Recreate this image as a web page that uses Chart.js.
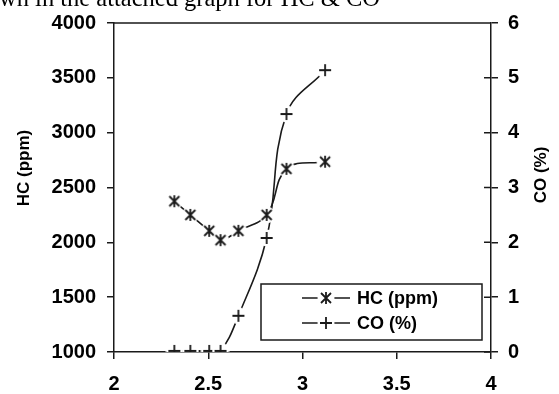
<!DOCTYPE html>
<html>
<head>
<meta charset="utf-8">
<script src="https://cdn.jsdelivr.net/npm/chart.js@4.4.1/dist/chart.umd.min.js"></script>
<style>
  html, body { margin: 0; padding: 0; background: #fff; overflow: hidden; }
  #wrap { position: relative; width: 559px; height: 394px; }
  #cut { position: absolute; left: -1px; top: -14px; font: 24.5px/24px "Liberation Serif", "Times New Roman", serif; color: #000; white-space: nowrap; }
  canvas { position: absolute; left: 0; top: 0; }
</style>
</head>
<body>
<div id="wrap">
  <canvas id="grafica" width="559" height="394"></canvas>
  <div id="cut">wn in the attached graph for HC &amp; CO</div>
</div>
<script>
// values
const hcX = [2.32, 2.405, 2.505, 2.565, 2.66, 2.81, 2.915, 3.12];
const hcValues = [2375, 2250, 2105, 2020, 2105, 2250, 2670, 2735];
const coX = [2.32, 2.405, 2.505, 2.565, 2.66, 2.81, 2.915, 3.12];
const coValues = [0.02, 0.02, 0.02, 0.02, 0.66, 2.08, 4.34, 5.14];

const xTicks = [2, 2.5, 3, 3.5, 4];
const hcTicks = [1000, 1500, 2000, 2500, 3000, 3500, 4000];
const coTicks = [0, 1, 2, 3, 4, 5, 6];

const hcLabel = 'HC (ppm)';
const coLabel = 'CO (%)';

const ink = '#1a1a1a';
const tickFont = { family: 'Liberation Sans, Arial, sans-serif', size: 20, weight: 'bold' };
const plain = v => String(v);

// marker pictures: white disc behind so the line stops short of the mark
function marca(tipo) {
  const c = document.createElement('canvas');
  c.width = 18; c.height = 18;
  const g = c.getContext('2d');
  g.fillStyle = '#fff';
  g.beginPath(); g.arc(9, 9, 8.5, 0, Math.PI * 2); g.fill();
  g.strokeStyle = ink; g.lineWidth = 1.8; g.lineCap = 'butt';
  g.beginPath();
  if (tipo === 'star') {
    g.moveTo(4, 4); g.lineTo(14, 14);
    g.moveTo(14, 4); g.lineTo(4, 14);
    g.moveTo(9, 3); g.lineTo(9, 15);
  } else {
    g.moveTo(3, 9); g.lineTo(15, 9);
    g.moveTo(9, 3); g.lineTo(9, 15);
  }
  g.stroke();
  return c;
}
const starImg = marca('star');
const plusImg = marca('plus');

const graph = document.querySelector('#grafica');

const data = {
  datasets: [{
    label: hcLabel,
    data: hcX.map((x, i) => ({ x: x, y: hcValues[i] })),
    yAxisID: 'yHC',
    borderColor: ink,
    borderWidth: 1.6,
    tension: 0.4,
    pointStyle: starImg,
    pointRadius: 7,
    fill: false
  }, {
    label: coLabel,
    data: coX.map((x, i) => ({ x: x, y: coValues[i] })),
    yAxisID: 'yCO',
    borderColor: ink,
    borderWidth: 1.6,
    tension: 0.4,
    pointStyle: plusImg,
    pointRadius: 7,
    fill: false
  }]
};

// extras: top frame, inner ticks on right axis, axis titles, boxed legend
const extras = {
  id: 'extras',
  afterDraw(chart) {
    const ctx = chart.ctx;
    const a = chart.chartArea;
    const yCO = chart.scales.yCO;
    ctx.save();
    ctx.strokeStyle = ink;
    ctx.lineWidth = 1.5;
    ctx.beginPath();
    ctx.moveTo(a.left, a.top); ctx.lineTo(a.right, a.top);
    coTicks.forEach(v => {
      const py = yCO.getPixelForValue(v);
      ctx.moveTo(a.right - 7, py); ctx.lineTo(a.right, py);
    });
    ctx.stroke();

    ctx.fillStyle = '#000';
    ctx.font = 'bold 17px "Liberation Sans", Arial, sans-serif';
    ctx.textAlign = 'center';
    ctx.textBaseline = 'middle';
    ctx.save(); ctx.translate(24, 168); ctx.rotate(-Math.PI / 2); ctx.fillText(hcLabel, 0, 0); ctx.restore();
    ctx.save(); ctx.translate(541, 175); ctx.rotate(-Math.PI / 2); ctx.fillText(coLabel, 0, 0); ctx.restore();

    // legend box
    const bx = 261, by = 284, bw = 221, bh = 56;
    ctx.fillStyle = '#fff';
    ctx.fillRect(bx, by, bw, bh);
    ctx.lineWidth = 1.5;
    ctx.strokeRect(bx, by, bw, bh);
    const filas = [[hcLabel, starImg, 298], [coLabel, plusImg, 323]];
    ctx.font = 'bold 18px "Liberation Sans", Arial, sans-serif';
    ctx.textAlign = 'left';
    filas.forEach(f => {
      const cy = f[2];
      ctx.beginPath();
      ctx.moveTo(302, cy); ctx.lineTo(318, cy);
      ctx.moveTo(334, cy); ctx.lineTo(350, cy);
      ctx.stroke();
      ctx.drawImage(f[1], 326 - 9, cy - 9);
      ctx.fillStyle = '#000';
      ctx.fillText(f[0], 357, cy + 1);
    });
    ctx.restore();
  }
};

const config = {
  type: 'line',
  data: data,
  options: {
    responsive: false,
    animation: false,
    layout: { padding: { top: 20, left: 0, right: 0, bottom: 0 } },
    plugins: { legend: { display: false }, tooltip: { enabled: false } },
    scales: {
      x: {
        type: 'linear',
        min: 2, max: 4,
        afterFit: s => { s.height = 42; },
        afterBuildTicks: s => { s.ticks = xTicks.map(v => ({ value: v })); },
        grid: { drawOnChartArea: false, tickLength: 7, color: ink, lineWidth: 1.5 },
        border: { color: ink, width: 1.5 },
        ticks: { color: '#000', font: tickFont, padding: 13, maxRotation: 0, callback: plain }
      },
      yHC: {
        type: 'linear',
        position: 'left',
        min: 1000, max: 4000,
        afterFit: s => { s.width = 114; },
        afterBuildTicks: s => { s.ticks = hcTicks.map(v => ({ value: v })); },
        grid: { drawOnChartArea: false, tickLength: 7, color: ink, lineWidth: 1.5 },
        border: { color: ink, width: 1.5 },
        ticks: { color: '#000', font: tickFont, padding: 11, callback: plain }
      },
      yCO: {
        type: 'linear',
        position: 'right',
        min: 0, max: 6,
        afterFit: s => { s.width = 68; },
        afterBuildTicks: s => { s.ticks = coTicks.map(v => ({ value: v })); },
        grid: { drawOnChartArea: false, tickLength: 7, color: ink, lineWidth: 1.5 },
        border: { color: ink, width: 1.5 },
        ticks: { color: '#000', font: tickFont, padding: 10, callback: plain }
      }
    }
  },
  plugins: [extras]
};

new Chart(graph, config);
</script>
</body>
</html>
